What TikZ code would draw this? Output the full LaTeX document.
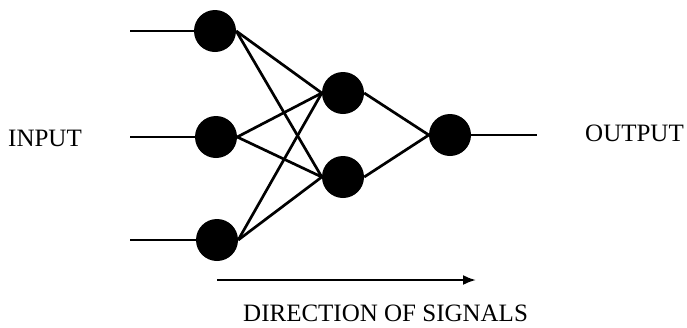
\documentclass[tikz,border=0pt]{standalone}
\usepackage{fontspec}
\setmainfont{Liberation Serif}
\usetikzlibrary{arrows.meta}

\begin{document}
\begin{tikzpicture}[x=1pt,y=-1pt,
        neuron/.style={circle,fill=black,minimum size=42pt,inner sep=0pt},
        wire/.style={line width=2.7pt},
        label/.style={inner sep=0pt,font=\fontsize{25}{30}\selectfont}]
        \useasboundingbox (0,0) rectangle (687,327);
        % layers
        \node[neuron] (in1) at (215,31) {};
        \node[neuron] (in2) at (216,137) {};
        \node[neuron] (in3) at (217,240) {};
        \node[neuron] (hid1) at (343,93) {};
        \node[neuron] (hid2) at (343,177) {};
        \node[neuron] (out) at (450,135) {};
        % free ends
        \coordinate (s1) at (130,31);
        \coordinate (s2) at (130,137);
        \coordinate (s3) at (130,240);
        \coordinate (e) at (537,135);
        \draw[wire] (s1) -- (in1.west);
        \draw[wire] (s2) -- (in2.west);
        \draw[wire] (s3) -- (in3.west);
        \foreach \i in {in1,in2,in3} {
            \draw[wire] (\i.east) -- (hid1.west);
            \draw[wire] (\i.east) -- (hid2.west);
        }
        \draw[wire] (hid1.east) -- (out.west);
        \draw[wire] (hid2.east) -- (out.west);
        \draw[wire] (out.east) -- (e);
        % labels
        \node[label,anchor=west] (inlabel) at (8,138.5) {INPUT};
        \node[label,anchor=west] (outlabel) at (585,133.5) {OUTPUT};
        \coordinate (a1) at (217,280);
        \coordinate (a2) at (476,280);
        \draw[line width=2.2pt,-{Latex[length=13pt,width=10pt]}] (a1) -- (a2);
        \node[label,anchor=west] (dirlabel) at (243,313.5) {DIRECTION OF SIGNALS};
    \end{tikzpicture}
\end{document}
